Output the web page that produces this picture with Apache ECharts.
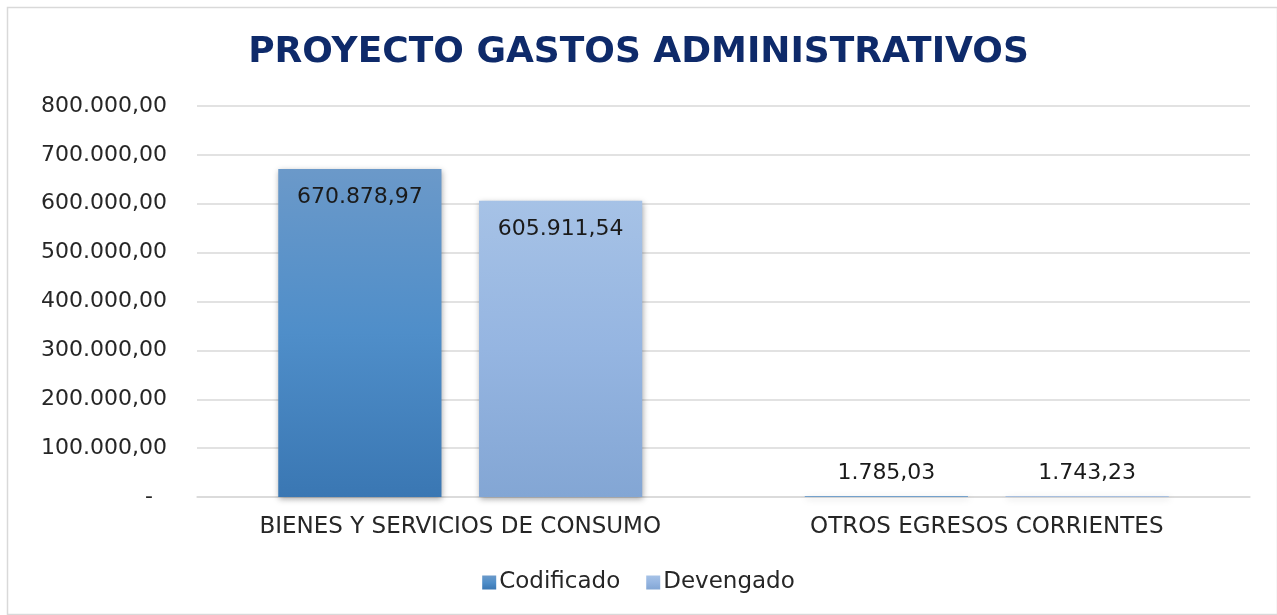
<!DOCTYPE html>
<html><head><meta charset="utf-8">
<script src="https://cdn.jsdelivr.net/npm/echarts@6/dist/echarts.min.js"></script>
<style>html,body{margin:0;padding:0;background:#fff}#c{width:1277px;height:615px}</style>
</head><body><div id="c"></div>
<script>
const categories = ['BIENES Y SERVICIOS DE CONSUMO', 'OTROS EGRESOS CORRIENTES'];
const codificado = [670878.97, 1785.03];
const devengado = [605911.54, 1743.23];
const seriesNames = ['Codificado', 'Devengado'];
const yMax = 800000, yInterval = 100000;

function fmt(v) {
  const parts = Math.abs(v).toFixed(2).split('.');
  const intPart = parts[0].replace(/\B(?=(\d{3})+(?!\d))/g, '.');
  return intPart + ',' + parts[1];
}
const FONT = 'DejaVu Sans';
const chart = echarts.init(document.getElementById('c'), null, {renderer: 'canvas'});
function items(arr) {
  return arr.map(v => ({
    value: v,
    label: v > 100000 ? {position: 'insideTop', distance: 17} : {position: 'top', distance: 12}
  }));
}
const shadow = {shadowBlur: 6, shadowColor: 'rgba(0,0,0,0.35)', shadowOffsetX: 1, shadowOffsetY: 2};
chart.setOption({
  animation: false,
  backgroundColor: '#fff',
  graphic: [{type: 'rect', shape: {x: 7.5, y: 7.5, width: 1270, height: 607}, style: {fill: 'none', stroke: '#d9d9d9', lineWidth: 1.5}, silent: true}],
  title: {text: 'PROYECTO GASTOS ADMINISTRATIVOS', left: 'center', top: 30,
    textStyle: {fontFamily: FONT, fontWeight: 'bold', fontSize: 36, color: '#0e2a6a'}},
  legend: {bottom: 16, left: 'center', itemWidth: 14, itemHeight: 14, itemGap: 26, icon: 'rect',
    textStyle: {fontFamily: FONT, fontSize: 23, color: '#262626', padding: [0, 0, 0, -2]},
    data: seriesNames},
  grid: {left: 197, right: 27, top: 106, bottom: 118},
  xAxis: {type: 'category', data: categories,
    axisLine: {lineStyle: {color: '#d9d9d9', width: 1.5}}, axisTick: {show: false},
    axisLabel: {fontFamily: FONT, fontSize: 23, color: '#262626', margin: 19}},
  yAxis: {type: 'value', min: 0, max: yMax, interval: yInterval,
    axisLine: {show: false}, axisTick: {show: false},
    splitLine: {lineStyle: {color: '#d9d9d9', width: 1.5}},
    axisLabel: {fontFamily: FONT, fontSize: 22, color: '#262626', margin: 30,
      formatter: v => v === 0 ? '-  ' : fmt(v)}},
  series: [
    {name: seriesNames[0], type: 'bar', data: items(codificado), barWidth: '31%', barGap: '23%',
      itemStyle: Object.assign({color: new echarts.graphic.LinearGradient(0, 0, 0, 1, [
        {offset: 0, color: '#6b99c9'}, {offset: 0.5, color: '#4f8ec9'}, {offset: 1, color: '#3a77b3'}])}, shadow),
      label: {show: true, formatter: p => fmt(p.value), fontFamily: FONT, fontSize: 22, color: '#1a1a1a'}},
    {name: seriesNames[1], type: 'bar', data: items(devengado), barWidth: '31%',
      itemStyle: Object.assign({color: new echarts.graphic.LinearGradient(0, 0, 0, 1, [
        {offset: 0, color: '#a6c2e6'}, {offset: 0.5, color: '#95b5e1'}, {offset: 1, color: '#83a6d4'}])}, shadow),
      label: {show: true, formatter: p => fmt(p.value), fontFamily: FONT, fontSize: 22, color: '#1a1a1a'}}
  ]
});
</script></body></html>
